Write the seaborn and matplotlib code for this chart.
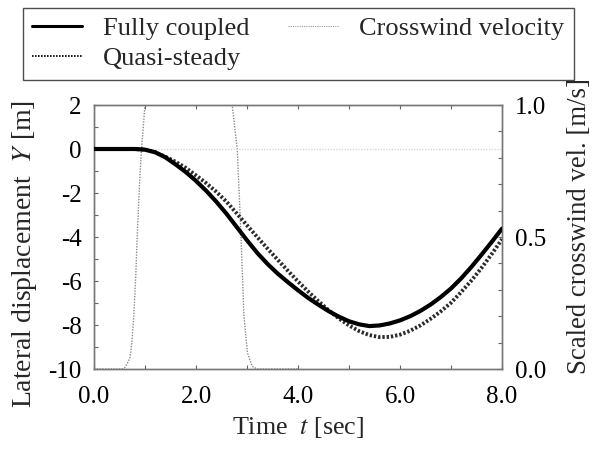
import numpy as np
import pandas as pd
import matplotlib
matplotlib.use("Agg")
import matplotlib.pyplot as plt
from matplotlib.lines import Line2D
from matplotlib.ticker import MultipleLocator, FormatStrFormatter
import seaborn as sns

# ---- data ----
t_resp = [0.0, 0.8, 1.0, 1.2, 1.4, 1.6, 1.8, 2.0, 2.2, 2.4, 2.6, 2.8, 3.0, 3.2, 3.4,
          3.6, 3.8, 4.0, 4.2, 4.4, 4.6, 4.8, 5.0, 5.2, 5.4, 5.6, 5.8, 6.0, 6.2, 6.4,
          6.6, 6.8, 7.0, 7.2, 7.4, 7.6, 7.8, 8.0]
fully_coupled = [0.0, 0.0, -0.03, -0.15, -0.38, -0.7, -1.05, -1.45, -1.9, -2.4, -2.95,
                 -3.55, -4.15, -4.72, -5.22, -5.66, -6.05, -6.42, -6.77, -7.08, -7.37,
                 -7.62, -7.83, -7.97, -8.05, -8.02, -7.93, -7.79, -7.6, -7.36, -7.07,
                 -6.73, -6.34, -5.88, -5.36, -4.8, -4.22, -3.62]
quasi_steady = [0.0, 0.0, -0.03, -0.15, -0.35, -0.58, -0.86, -1.2, -1.55, -1.95, -2.4,
                -2.93, -3.47, -4.0, -4.52, -5.03, -5.53, -6.02, -6.48, -6.92, -7.33,
                -7.7, -8.02, -8.28, -8.46, -8.55, -8.54, -8.44, -8.26, -8.02, -7.72,
                -7.38, -6.99, -6.5, -5.98, -5.4, -4.77, -4.1]

t_wind = [0.0, 0.55, 0.6, 0.65, 0.7, 0.72, 0.75, 0.78, 0.82, 0.85, 0.9, 0.93, 1.0, 1.05,
          1.1, 1.2, 1.3, 2.4, 2.5, 2.6, 2.71, 2.81, 2.88, 2.94, 3.01, 3.1, 3.2, 4.0]
wind = [0.0, 0.0, 0.005, 0.02, 0.04, 0.06, 0.12, 0.2, 0.36, 0.515, 0.73, 0.83, 1.0, 1.08,
        1.14, 1.19, 1.2, 1.2, 1.18, 1.11, 1.0, 0.83, 0.515, 0.2, 0.06, 0.01, 0.0, 0.0]

x_ticks = [0, 2, 4, 6, 8]
x_ticklabels = ["0.0", "2.0", "4.0", "6.0", "8.0"]
y_ticks = [2, 0, -2, -4, -6, -8, -10]
y2_ticks = [0.0, 0.5, 1.0]

df_resp = pd.DataFrame({"t": t_resp, "fc": fully_coupled, "qs": quasi_steady})
df_wind = pd.DataFrame({"t": t_wind, "v": wind})

# ---- style ----
sns.set_theme(style="white")
plt.rcParams["font.family"] = ["Liberation Serif", "DejaVu Serif"]
plt.rcParams["mathtext.fontset"] = "stix"
TICK_FS = 18
YLAB_FS = 20
Y2LAB_FS = 19.3
XLAB_FS = 18.7
LEG_FS = 19

fig = plt.figure(figsize=(5.95, 4.49), dpi=100)
ax = fig.add_axes([94 / 595, 80 / 449, 408 / 595, 264 / 449])
ax2 = ax.twinx()

# reference line at Y = 0
ax.axhline(0, color="#d6d6d6", lw=1.0, ls=(0, (1, 1)), zorder=1)

sns.lineplot(data=df_wind, x="t", y="v", ax=ax2, color="#8a8a8a", lw=1.0,
             linestyle=(0, (1, 1)), zorder=2)
sns.lineplot(data=df_resp, x="t", y="qs", ax=ax, color="#2b2b2b", lw=2.8,
             linestyle=(0, (0.6, 0.5)), zorder=3)
sns.lineplot(data=df_resp, x="t", y="fc", ax=ax, color="black", lw=3.0, zorder=4)

ax.set_zorder(ax2.get_zorder() + 1)
ax.patch.set_visible(False)

ax.set_xlim(0, 8)
ax.set_ylim(-10, 2)
ax2.set_ylim(0, 1)

ax.set_xticks(x_ticks)
ax.set_xticklabels(x_ticklabels)
ax.set_yticks(y_ticks)
ax.set_yticklabels([str(v) for v in y_ticks])
ax.xaxis.set_minor_locator(MultipleLocator(1))
ax.yaxis.set_minor_locator(MultipleLocator(1))
ax2.set_yticks(y2_ticks)
ax2.yaxis.set_major_formatter(FormatStrFormatter("%.1f"))
ax2.yaxis.set_minor_locator(MultipleLocator(0.1))

for a in (ax, ax2):
    a.tick_params(which="both", direction="in", length=3, width=0.8, color="#666666",
                  labelsize=TICK_FS, labelcolor="black", pad=9)
ax.tick_params(which="both", top=True, right=False, left=True, bottom=True)
ax2.tick_params(which="both", left=False, right=True)
ax.tick_params(axis="x", pad=12)

for a in (ax, ax2):
    for s in a.spines.values():
        s.set_color("#777777")
        s.set_linewidth(1.0)

ax.set_xlabel("Time  $t$ [sec]", fontsize=XLAB_FS)
ax.set_ylabel("Lateral displacement  $Y$ [m]", fontsize=YLAB_FS)
ax2.set_ylabel("Scaled crosswind vel. [m/s]", fontsize=Y2LAB_FS)
ax.yaxis.set_label_coords(-0.136, 0.436)
ax2.yaxis.set_label_coords(1.159, 0.54)
ax.xaxis.set_label_coords(0.5, -0.175)

handles = [
    Line2D([], [], color="black", lw=2.2),
    Line2D([], [], color="black", lw=1.2, ls=(0, (1, 0.8))),
    Line2D([], [], color="#9a9a9a", lw=0.8, ls=(0, (1, 1))),
]
labels = ["Fully coupled", "Quasi-steady", "Crosswind velocity"]
leg = fig.legend(handles, labels, ncol=2, loc="upper center",
                 bbox_to_anchor=(0.501, 0.983), fontsize=LEG_FS,
                 frameon=True, fancybox=False, edgecolor="#222222",
                 handlelength=1.9, handletextpad=0.8, columnspacing=1.45,
                 borderpad=0.35, labelspacing=0.25, borderaxespad=0)
leg.get_frame().set_linewidth(1.0)

fig.savefig("out.png", dpi=100)
